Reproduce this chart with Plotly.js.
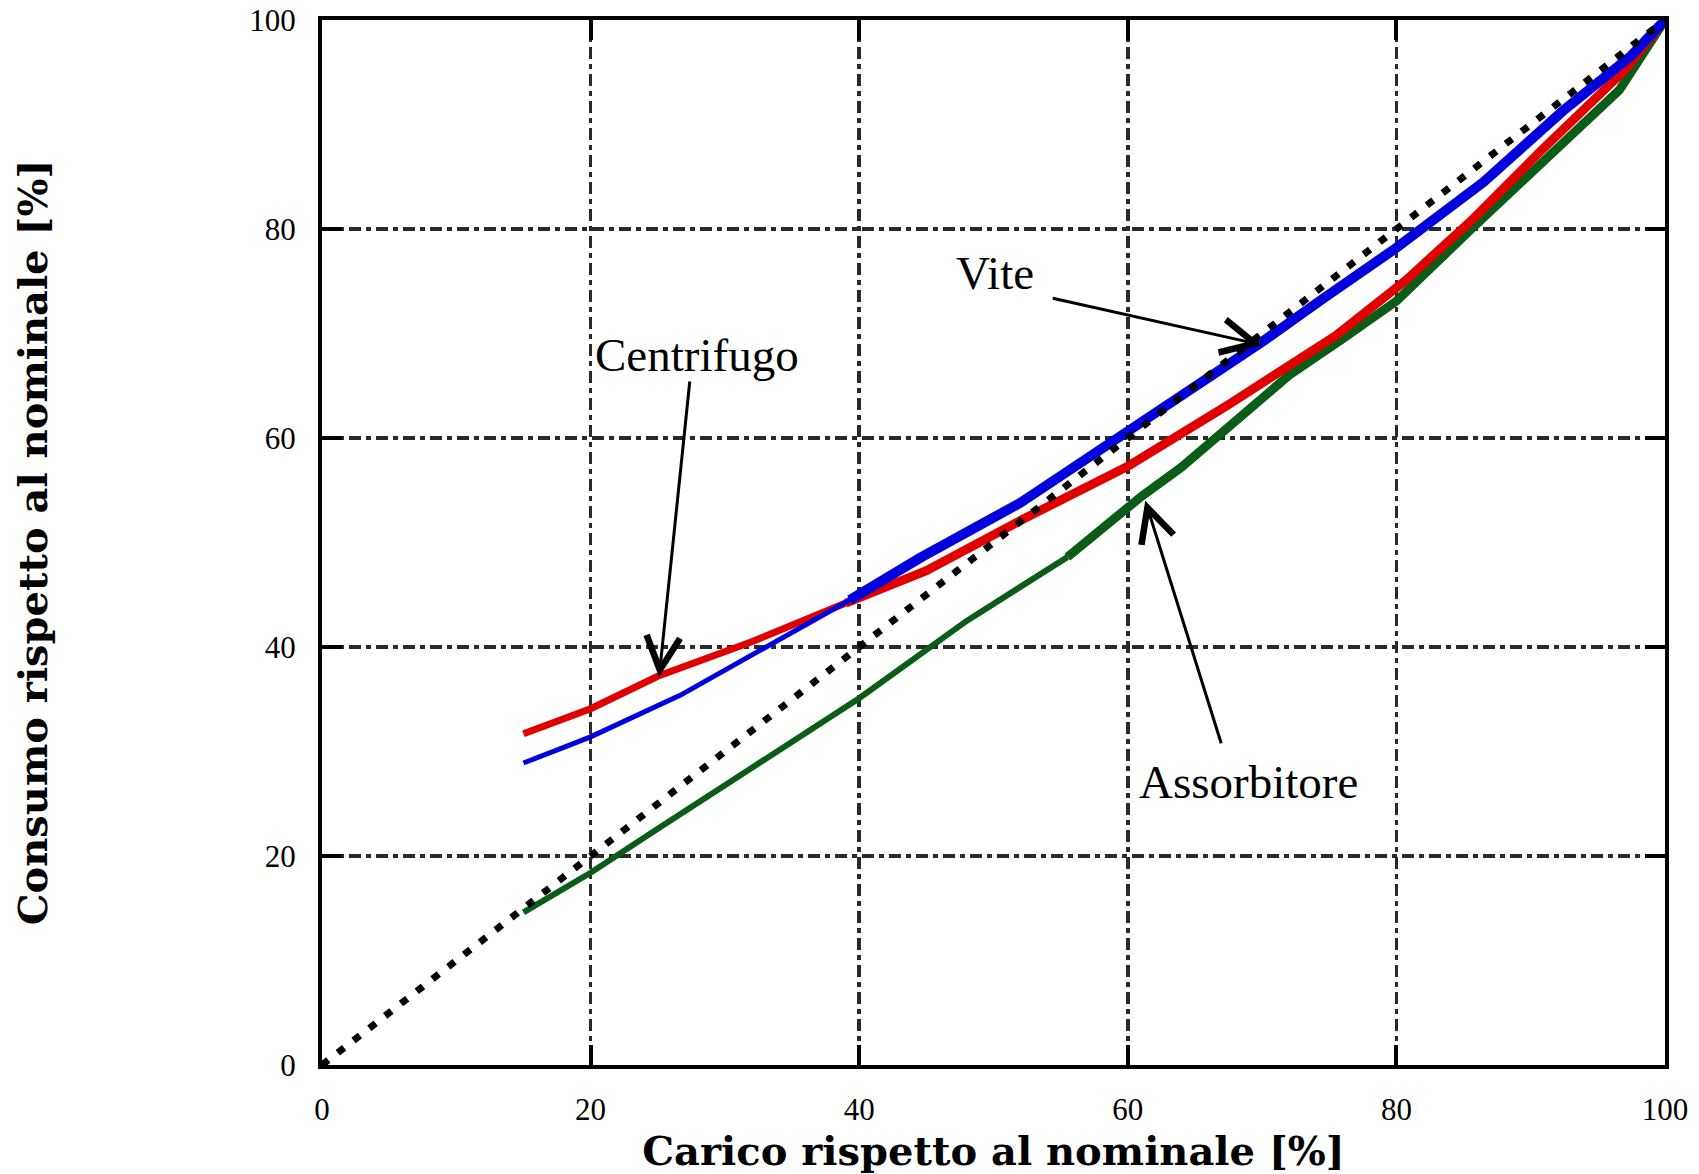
<!DOCTYPE html>
<html>
<head>
<meta charset="utf-8">
<script src="https://cdn.plot.ly/plotly-3.0.1.min.js"></script>
<style>
html, body { margin: 0; padding: 0; background: #ffffff; }
#chart { width: 1699px; height: 1174px; }
</style>
</head>
<body>
<div id="chart"></div>
<script>
// ---- data ----
const tickValues = [0, 20, 40, 60, 80, 100];
const tickLabels = ['0', '20', '40', '60', '80', '100'];

const diagonalX = [0, 100];
const diagonalY = [0, 100];

const centrifugoX = [15, 20, 25, 32, 39, 45, 52, 60, 67.5, 75.5, 80.7, 85.5, 90.7, 97, 100];
const centrifugoY = [31.7, 34.1, 37.2, 40.5, 44.2, 47.3, 52.1, 57.3, 63.2, 69.8, 75.1, 80.7, 87.4, 95.2, 100];

const viteX = [15, 20, 26.7, 32, 39.3, 44.5, 52, 60, 70, 74.5, 80, 86.5, 92.4, 97.5, 100];
const viteY = [28.9, 31.4, 35.4, 39.2, 44.5, 48.5, 53.8, 60.6, 69.2, 73.3, 78.2, 84.5, 91.3, 96.6, 100];

const assorbitoreX = [15, 20, 25, 32, 40, 48, 55.5, 61, 64, 68, 72, 76, 80, 85.5, 90.7, 96.6, 100];
const assorbitoreY = [14.6, 18.4, 22.6, 28.4, 35.1, 42.5, 48.6, 54.4, 57.2, 61.7, 66, 69.5, 73.1, 79.9, 86.2, 93.3, 100];

const labels = {
  vite: 'Vite',
  centrifugo: 'Centrifugo',
  assorbitore: 'Assorbitore'
};
const xTitle = 'Carico rispetto al nominale [%]';
const yTitle = 'Consumo rispetto al nominale [%]';

// ---- drawing ----
const serif = 'Liberation Serif, Times New Roman, serif';
const boldSerif = 'DejaVu Serif, serif';

function seg(xs, ys, from, to, color, width) {
  return {
    type: 'scatter', mode: 'lines',
    x: xs.slice(from, to), y: ys.slice(from, to),
    line: { color: color, width: width },
    hoverinfo: 'skip', showlegend: false
  };
}

const red = '#e00000', blue = '#0000dd', green = '#0a5c16';

const traces = [
  seg(assorbitoreX, assorbitoreY, 0, 7, green, 6),
  seg(assorbitoreX, assorbitoreY, 6, assorbitoreX.length, green, 9),
  seg(centrifugoX, centrifugoY, 0, 5, red, 7),
  seg(centrifugoX, centrifugoY, 4, centrifugoX.length, red, 9),
  seg(viteX, viteY, 0, 5, blue, 5),
  seg(viteX, viteY, 4, viteX.length, blue, 10),
  {
    type: 'scatter', mode: 'lines', x: diagonalX, y: diagonalY,
    line: { color: '#000', width: 7, dash: '8px,12px' },
    hoverinfo: 'skip', showlegend: false
  }
];

function axis(titleText, isY) {
  return {
    range: [0, 100],
    tickmode: 'array', tickvals: tickValues, ticktext: tickLabels,
    ticks: 'inside', ticklen: 20, tickwidth: 4, tickcolor: '#000',
    showline: true, linewidth: 4, linecolor: '#000', mirror: 'ticks',
    showgrid: true, gridcolor: '#2a2a2a', gridwidth: 3.5, griddash: '12px,5px,5px,5px',
    zeroline: false,
    ticklabelstandoff: isY ? 16 : 14,
    tickfont: { family: serif, size: 31, color: '#000' },
    title: {
      text: '<b>' + titleText + '</b>',
      font: { family: boldSerif, size: 40, color: '#000' },
      standoff: isY ? 190 : 6
    },
    fixedrange: true
  };
}

const arrowStyle = { arrowhead: 5, arrowsize: 2.2, arrowwidth: 3, arrowcolor: '#000' };

const annotations = [
  // labels
  { x: 50.1, y: 75.8, xref: 'x', yref: 'y', text: labels.vite, showarrow: false,
    font: { family: serif, size: 47, color: '#000' } },
  { x: 27.9, y: 67.9, xref: 'x', yref: 'y', text: labels.centrifugo, showarrow: false,
    font: { family: serif, size: 47, color: '#000' } },
  { x: 69.0, y: 27.1, xref: 'x', yref: 'y', text: labels.assorbitore, showarrow: false,
    font: { family: serif, size: 47, color: '#000' } },
  // arrows
  Object.assign({ x: 70, y: 68.9, ax: 54.3, ay: 73.4, xref: 'x', yref: 'y', axref: 'x', ayref: 'y',
    text: ' ', showarrow: true, font: { size: 1 } }, arrowStyle),
  Object.assign({ x: 25.1, y: 37.1, ax: 27.4, ay: 65.6, xref: 'x', yref: 'y', axref: 'x', ayref: 'y',
    text: ' ', showarrow: true, font: { size: 1 } }, arrowStyle),
  Object.assign({ x: 61.3, y: 54.0, ax: 67.0, ay: 30.6, xref: 'x', yref: 'y', axref: 'x', ayref: 'y',
    text: ' ', showarrow: true, font: { size: 1 } }, arrowStyle)
];

const layout = {
  width: 1699, height: 1174,
  margin: { l: 322, r: 34, t: 20, b: 109 },
  paper_bgcolor: '#fff', plot_bgcolor: '#fff',
  showlegend: false,
  xaxis: axis(xTitle, false),
  yaxis: axis(yTitle, true),
  annotations: annotations
};

Plotly.newPlot('chart', traces, layout, { displayModeBar: false, staticPlot: true });
</script>
</body>
</html>
